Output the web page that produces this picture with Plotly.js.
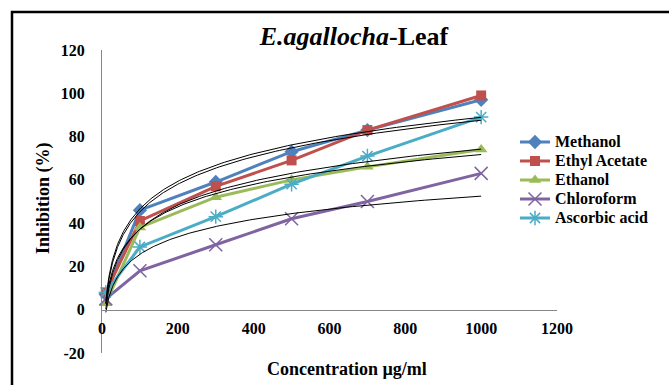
<!DOCTYPE html>
<html>
<head>
<meta charset="utf-8">
<script src="https://cdn.plot.ly/plotly-3.0.1.min.js"></script>
<style>html,body{margin:0;padding:0;background:#fff;}#chart{width:669px;height:385px;}</style>
</head>
<body>
<div id="chart"></div>
<script>
// ---- data ----
const concentration = [10, 100, 300, 500, 700, 1000];
const methanol      = [7, 46, 59, 73, 83, 97];
const ethylAcetate  = [8, 41, 57, 69, 83, 99];
const ethanol       = [3, 38, 52, 60, 66, 74];
const chloroform    = [5, 18, 30, 42, 50, 63];
const ascorbicAcid  = [8, 29, 43, 58, 71, 89];
const seriesNames   = ["Methanol", "Ethyl Acetate", "Ethanol", "Chloroform", "Ascorbic acid"];
const xTickVals     = [0, 200, 400, 600, 800, 1000, 1200];
const yTickVals     = [-20, 0, 20, 40, 60, 80, 100, 120];

// ---- styling ----
const FONT = "'Liberation Serif', 'Times New Roman', serif";
const colors  = ["#4F81BD", "#C0504D", "#9BBB59", "#8064A2", "#4BACC6"];
const symbols = ["diamond", "square", "triangle-up", "x-thin-open", "asterisk-open"];
const msizes  = [11, 10, 11, 13, 12];
const allSeries = [methanol, ethylAcetate, ethanol, chloroform, ascorbicAcid];

// plot area in pixels
const W = 669, H = 385;
const L = 102, R = 557, T = 50, B = 353;

const legendLabel = s => '<span style="font-size:16px"><b>' + s + '</b></span>';

const traces = allSeries.map((ys, i) => ({
  type: "scatter", mode: "lines+markers", name: legendLabel(seriesNames[i]),
  x: concentration, y: ys,
  line: {color: colors[i], width: 3},
  marker: {symbol: symbols[i], size: msizes[i], color: colors[i],
           line: {color: colors[i], width: (i >= 3 ? 1.5 : 0)}},
  cliponaxis: false
}));

// logarithmic trendlines (least squares on ln x), as Excel draws them
function logFit(xs, ys) {
  const lx = xs.map(Math.log);
  const n = xs.length;
  const mx = lx.reduce((a, b) => a + b, 0) / n;
  const my = ys.reduce((a, b) => a + b, 0) / n;
  let sxy = 0, sxx = 0;
  for (let k = 0; k < n; k++) { sxy += (lx[k] - mx) * (ys[k] - my); sxx += (lx[k] - mx) ** 2; }
  const b = sxy / sxx, a = my - b * mx;
  return v => a + b * Math.log(v);
}
const xMin = concentration[0], xMax = concentration[concentration.length - 1];
const fitX = [];
for (let k = 0; k <= 200; k++) fitX.push(xMin * Math.pow(xMax / xMin, k / 200));
allSeries.forEach(ys => {
  const f = logFit(concentration, ys);
  traces.push({type: "scatter", mode: "lines", x: fitX, y: fitX.map(f),
    line: {color: "#000", width: 1}, showlegend: false, hoverinfo: "skip"});
});

const px2fx = p => (p - L) / (R - L);
const px2fy = p => (B - p) / (B - T);
const bold = v => "<b>" + v + "</b>";

const layout = {
  width: W, height: H,
  margin: {l: L, r: W - R, t: T, b: H - B},
  paper_bgcolor: "#fff", plot_bgcolor: "#fff",
  font: {family: FONT, color: "#000", size: 14},
  title: {text: "<b><i>E.agallocha</i>-Leaf</b>", font: {family: FONT, size: 26, color: "#000"},
          xref: "paper", x: px2fx(354), xanchor: "center", yref: "container", y: 1 - 36 / H, yanchor: "middle"},
  xaxis: {range: [0, 1200], tickvals: xTickVals, ticktext: xTickVals.map(bold),
          showgrid: false, zeroline: false, showline: true, linecolor: "#868686", linewidth: 1,
          anchor: "free", position: 20 / 140, ticks: "", ticklabelstandoff: 4,
          tickfont: {family: FONT, size: 16, color: "#000"}},
  yaxis: {range: [-20, 120], tickvals: yTickVals, ticktext: yTickVals.map(bold),
          showgrid: false, zeroline: false, showline: true, linecolor: "#868686", linewidth: 1,
          ticks: "", ticklabelstandoff: 13,
          tickfont: {family: FONT, size: 16, color: "#000"}},
  showlegend: true,
  legend: {x: px2fx(515), y: px2fy(180), xanchor: "left", yanchor: "middle",
           font: {family: FONT, size: 12, color: "#000"}, bgcolor: "rgba(0,0,0,0)",
           itemwidth: 30, tracegroupgap: 0},
  annotations: [
    {text: "<b>Inhibition (%)</b>", xref: "paper", yref: "paper", x: px2fx(43), y: px2fy(198),
     showarrow: false, textangle: -90, xanchor: "center", yanchor: "middle", font: {family: FONT, size: 18}},
    {text: "<b>Concentration µg/ml</b>", xref: "paper", yref: "paper", x: px2fx(347), y: px2fy(369),
     showarrow: false, xanchor: "center", yanchor: "middle", font: {family: FONT, size: 18}}
  ],
  shapes: [
    {type: "rect", xref: "paper", yref: "paper", x0: px2fx(12), x1: px2fx(W + 20), y0: px2fy(H + 20), y1: px2fy(12),
     line: {color: "#000", width: 2.5}, fillcolor: "rgba(0,0,0,0)", layer: "below"}
  ]
};

Plotly.newPlot("chart", traces, layout, {staticPlot: true, displayModeBar: false});
</script>
</body>
</html>
